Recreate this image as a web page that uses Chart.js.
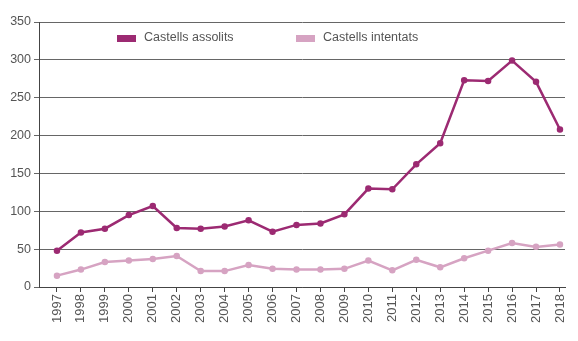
<!DOCTYPE html>
<html>
<head>
<meta charset="utf-8">
<script src="https://cdn.jsdelivr.net/npm/chart.js@4"></script>
<style>
  body { margin: 0; background: #fff; }
  #wrap { width: 578px; height: 341px; }
</style>
</head>
<body>
<div id="wrap"><canvas id="chart" width="578" height="341"></canvas></div>
<script>
// data
var years = [1997, 1998, 1999, 2000, 2001, 2002, 2003, 2004, 2005, 2006, 2007,
    2008, 2009, 2010, 2011, 2012, 2013, 2014, 2015, 2016, 2017, 2018]
var assolits = [48, 72, 77, 95, 107, 78, 77, 80, 88, 73, 82,
    84, 96, 130, 129, 162, 190, 273, 272, 299, 271, 208]
var intentats = [15, 23, 33, 35, 37, 41, 21, 21, 29, 24, 23,
    23, 24, 35, 22, 36, 26, 38, 48, 58, 53, 56]
var seriesNames = ["Castells assolits", "Castells intentats"]
var seriesColors = ["#9c2a72", "#d6a3c2"]

function toPoints(vals) {
    return years.map((y, i) => ({ x: y, y: vals[i] }))
}

// legend drawn inside the plot, like the original
var insideLegend = {
    id: 'insideLegend',
    afterDraw(chart) {
        var ctx = chart.ctx
        var starts = [117, 296]
        ctx.save()
        ctx.font = '12.5px "Liberation Sans", Arial, sans-serif'
        ctx.textBaseline = 'middle'
        chart.data.datasets.forEach((ds, i) => {
            ctx.fillStyle = ds.borderColor
            ctx.fillRect(starts[i], 35, 19, 7)
            ctx.fillStyle = '#555'
            ctx.fillText(ds.label, starts[i] + 27, 38)
        })
        ctx.restore()
    }
}

new Chart("chart", {
    type: "line",
    data: {
        datasets: [{
            label: seriesNames[0],
            data: toPoints(assolits),
            borderColor: seriesColors[0],
            backgroundColor: seriesColors[0],
            borderWidth: 2.5,
            pointRadius: 2,
            pointHoverRadius: 2,
            tension: 0
        }, {
            label: seriesNames[1],
            data: toPoints(intentats),
            borderColor: seriesColors[1],
            backgroundColor: seriesColors[1],
            borderWidth: 2.5,
            pointRadius: 2,
            pointHoverRadius: 2,
            tension: 0
        }]
    },
    options: {
        responsive: false,
        animation: false,
        layout: { padding: { top: 22, right: 13, left: 0, bottom: 0 } },
        plugins: {
            legend: { display: false },
            tooltip: { enabled: false }
        },
        scales: {
            x: {
                type: "linear",
                min: 1996.25,
                max: 2018.21,
                afterBuildTicks: scale => {
                    scale.ticks = years.map(y => ({ value: y }))
                },
                afterFit: scale => { scale.height = 54 },
                grid: { drawOnChartArea: false, drawTicks: true, tickLength: 5, color: "#444" },
                border: { color: "#444", width: 1 },
                ticks: {
                    minRotation: 90,
                    maxRotation: 90,
                    padding: 2,
                    color: "#555",
                    font: { family: '"Liberation Sans", Arial, sans-serif', size: 13 },
                    callback: v => String(v)
                }
            },
            y: {
                min: 0,
                max: 350,
                afterFit: scale => { scale.width = 39 },
                ticks: {
                    stepSize: 50,
                    padding: 3,
                    color: "#555",
                    font: { family: '"Liberation Sans", Arial, sans-serif', size: 12.5 }
                },
                grid: { color: "#666", tickLength: 5 },
                border: { color: "#444", width: 1 }
            }
        }
    },
    plugins: [insideLegend]
})
</script>
</body>
</html>
